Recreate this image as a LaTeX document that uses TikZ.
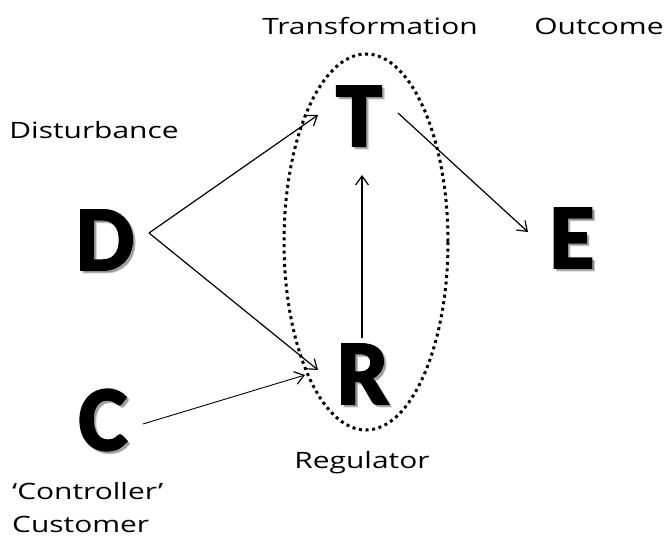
\documentclass[tikz,border=0pt]{standalone}
\usepackage{fontspec}
\usepackage{tikz}
\usetikzlibrary{arrows.meta}
\setmainfont[FakeStretch=1.33]{Open Sans}
\newfontfamily\bigletters[FakeBold=2.5]{Carlito}

\tikzset{
  letter/.style={font=\bigletters\bfseries\fontsize{92}{92}\selectfont, inner sep=0pt},
  lbl/.style={font=\fontsize{22.5}{24}\selectfont, inner sep=0pt, anchor=base},
  arr/.style={line width=1.2pt, -{Straight Barb[length=9pt,width=13pt,line width=1.2pt]}},
}

\begin{document}
\begin{tikzpicture}[x=1pt,y=1pt,yscale=-1]
\useasboundingbox (0,0) rectangle (665,537);

% regulator loop
\draw [line width=3pt, dash pattern=on 3pt off 3.6pt] (366,242) ellipse (82 and 188);

% big letters, each with a soft shadow
\foreach \n/\x/\y in {D/105/240, T/359/116, E/572/238, R/363/374, C/103/420} {
  \node [letter, text=black, opacity=0.25] at (\x+2.5,\y+2.5) {\n};
  \node [letter] (\n) at (\x,\y) {\n};
}

% connectors
\draw [arr] ([shift={(44,-7)}]D.center) -- ([shift={(-41,-1)}]T.center);
\draw [arr] ([shift={(44,-7)}]D.center) -- ([shift={(-45,-4)}]R.center);
\draw [arr, line width=0.9pt] ([shift={(40,4)}]C.center) -- ([shift={(-58,1)}]R.center);
\draw [arr] ([shift={(-1,-36)}]R.center) -- ([shift={(3,59)}]T.center);
\draw [arr] ([shift={(39,-3)}]T.center) -- ([shift={(-44,-6)}]E.center);

% labels
\node [lbl] (trans) at (370,35) {Transformation};
\node [lbl] (outc) at (599,35) {Outcome};
\node [lbl] (dist) at (94,139) {Disturbance};
\node [lbl] (reg) at (362,469) {Regulator};
\node [lbl, anchor=base west] (ctrl) at (12,500) {‘Controller’};
\node [lbl, anchor=base west] (cust) at (12,533) {Customer};

\end{tikzpicture}
\end{document}
